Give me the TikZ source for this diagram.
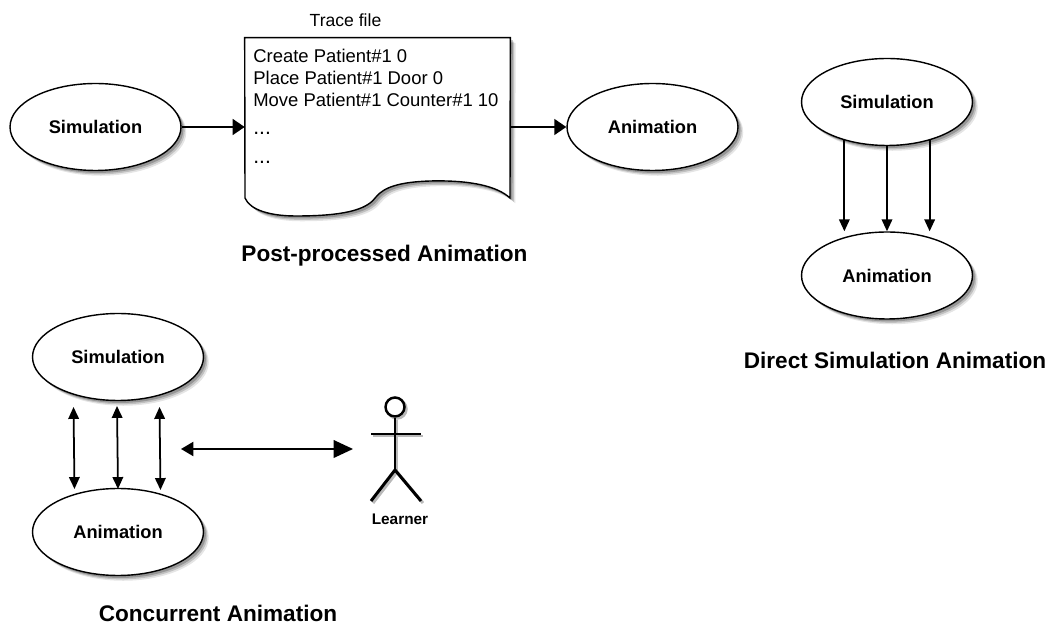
\documentclass[tikz,border=0pt]{standalone}
\usepackage{fontspec}
\setmainfont{Liberation Sans}
\usetikzlibrary{arrows.meta, positioning, shapes.geometric, shadows}

\begin{document}
\begin{tikzpicture}[x=0.02cm, y=-0.02cm]
  % --- Styles ---
  \tikzset{
    soft shadow/.style={
      drop shadow={shadow xshift=3pt, shadow yshift=-3pt, fill=black, opacity=0.10},
      drop shadow={shadow xshift=2.2pt, shadow yshift=-2.2pt, fill=black, opacity=0.16},
      drop shadow={shadow xshift=1.4pt, shadow yshift=-1.4pt, fill=black, opacity=0.22}
    },
    blob/.style={ellipse, draw, line width=0.8pt, fill=white, soft shadow, inner sep=0pt,
      minimum width=3.42cm, minimum height=1.74cm, font=\fontsize{10.4}{12}\bfseries\selectfont},
    flow/.style={-{Triangle[length=6.8pt, width=9pt]}, line width=1pt},
    link/.style={{Triangle[length=6.8pt, width=6pt]}-{Triangle[length=6.8pt, width=6pt]}, line width=1pt},
    caption/.style={font=\fontsize{12.85}{15}\bfseries\selectfont},
    limb/.style={line width=1.7pt}
  }

  \useasboundingbox (0,0) rectangle (1062,624);

  % --- Post-processed animation ---
  \node[blob] (simPost) at (95.5,127) {Simulation};
  \node[blob] (animPost) at (652.5,127) {Animation};
  \node[minimum width=5.3cm, minimum height=3.56cm, inner sep=0pt] (traceDoc) at (377.5,127) {};

  % Sheet with the wavy lower edge
  \draw[line width=0.8pt, fill=white, soft shadow] (traceDoc.north west) -- (traceDoc.north east) -- (510,198)
    .. controls (497,186) and (470,180) .. (430,181)
    .. controls (400,182) and (384,187) .. (376,197)
    .. controls (368,208) and (350,216) .. (296,216)
    .. controls (270,216) and (250,210) .. (245,198) -- cycle;

  \node[anchor=north west, align=left, inner sep=0pt, font=\fontsize{10.5}{12.6}\selectfont] (traceText) at (253,48.5)
    {Create Patient\#1 0\\Place Patient\#1 Door 0\\Move Patient\#1 Counter\#1 10\\[3.6pt]
     {\fontsize{12}{12.6}\selectfont ...}\\[3.6pt]{\fontsize{12}{12.6}\selectfont ...}};
  \node[font=\fontsize{10}{12}\selectfont, above=3pt of traceDoc.north, xshift=-0.64cm] (traceTitle) {Trace file};

  \draw[flow] (simPost) -- (traceDoc);
  \draw[flow] (traceDoc) -- (animPost);

  \node[caption] (postCaption) at (384.5,255.5) {Post-processed Animation};

  % --- Direct simulation animation ---
  \node[blob] (simDirect) at (887,102) {Simulation};
  \node[blob] (animDirect) at (887,275.5) {Animation};

  % Three feeds, all ending level with the top of the lower ellipse
  \foreach \ang in {-138,-90,-42}
    \draw[flow, -{Triangle[length=6.8pt, width=6pt]}] (simDirect.\ang) -- (simDirect.\ang |- animDirect.north);

  \node[caption] (directCaption) at (895,360) {Direct Simulation Animation};

  % --- Concurrent animation ---
  \node[blob] (simConc) at (118,357) {Simulation};
  \node[blob] (animConc) at (118,532) {Animation};

  \coordinate (upA) at (73.5,407);
  \coordinate (upB) at (117,406);
  \coordinate (upC) at (159.5,407);
  \coordinate (downA) at (74.5,489);
  \coordinate (downB) at (118,489);
  \coordinate (downC) at (160.5,490);

  \draw[link] (upA) -- (downA);
  \draw[link] (upB) -- (downB);
  \draw[link] (upC) -- (downC);

  % --- Learner ---
  \coordinate (learnerLeft) at (181,449);
  \coordinate (learnerRight) at (353,449);
  \draw[{Triangle[length=7pt, width=8pt]}-{Triangle[length=11pt, width=10pt]}, line width=1pt] (learnerLeft) -- (learnerRight);

  \foreach \off/\tone in {2/gray!55, 0/black} {
    \begin{scope}[shift={(\off,\off)}, draw=\tone]
      \node[circle, draw=\tone, line width=1.4pt, fill=white, minimum size=0.38cm, inner sep=0pt] (learnerHead) at (395,407) {};
      \draw[limb] (learnerHead.south) -- (395,470);
      \draw[limb] (371,434) -- (421,434);
      \draw[limb] (371,501) -- (395,470) -- (421,501);
    \end{scope}
  }
  \node[font=\fontsize{8.75}{10}\bfseries\selectfont] (learnerLabel) at (400,519) {Learner};

  \node[caption] (concCaption) at (218,613.5) {Concurrent Animation};
\end{tikzpicture}
\end{document}
